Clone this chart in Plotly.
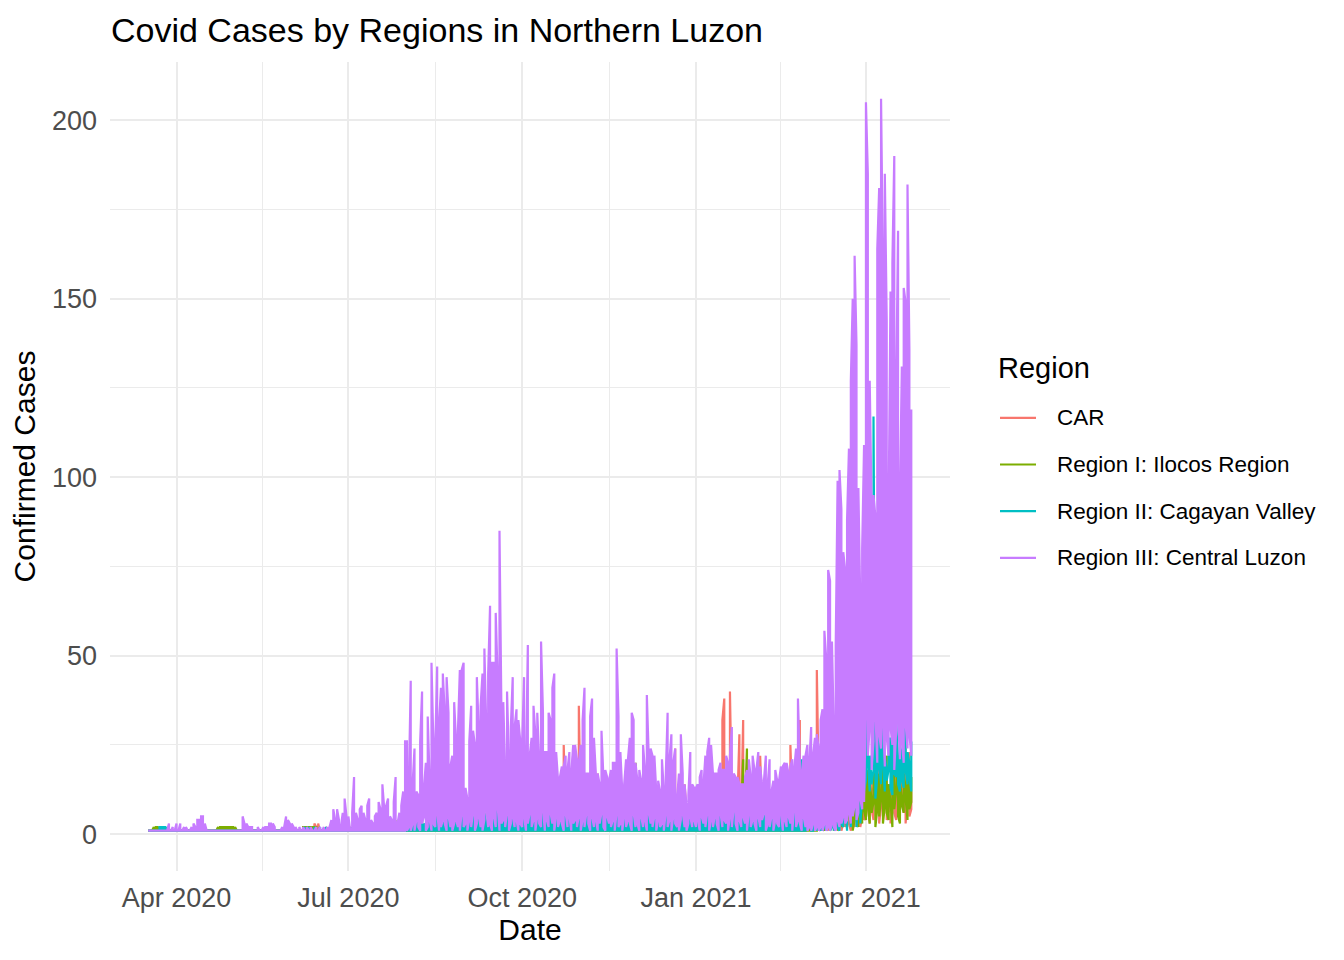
import pandas as pd
import plotly.graph_objects as go

# first day of each monthly chunk (data starts mid-March 2020)
month_starts = ["2020-03-17", "2020-04-01", "2020-05-01", "2020-06-01", "2020-07-01",
                "2020-08-01", "2020-09-01", "2020-10-01", "2020-11-01", "2020-12-01",
                "2021-01-01", "2021-02-01", "2021-03-01", "2021-04-01"]

# daily highest city count, one list per month
car_cases = [
    [1,1,1,1,1,1,1,1,1,1,1,1,1,1,1],
    [1,1,1,1,1,1,1,1,1,1,1,1,1,1,1,1,1,1,1,1,1,1,1,1,1,1,1,1,1,1],
    [1,1,1,1,1,1,1,1,1,1,1,1,1,1,1,1,1,1,1,1,1,1,1,1,1,1,1,1,1,1,1],
    [1,1,1,1,1,1,1,1,1,2,1,2,3,2,3,1,1,1,2,1,1,1,1,2,1,1,1,1,2,1],
    [1,2,1,1,2,1,1,2,1,1,3,1,2,1,1,2,1,2,3,2,1,2,3,1,2,1,1,2,3,2,1],
    [2,1,3,1,2,4,1,2,3,2,1,3,2,1,2,3,1,2,5,2,1,3,2,4,1,2,3,2,1,3,2],
    [3,2,1,4,2,3,1,2,5,3,2,1,4,2,3,2,6,3,1,2,4,3,2,5,3,2,4,3,2,27],
    [4,3,5,2,3,6,4,2,3,5,2,4,3,6,2,3,4,5,7,4,3,5,25,6,3,18,4,23,5,6,36],
    [5,4,6,3,7,4,5,3,6,17,4,5,3,6,4,7,5,3,6,4,5,8,4,6,3,5,7,4,6,5],
    [5,4,6,8,5,7,22,6,4,5,7,3,6,5,4,8,6,21,5,7,24,6,4,5,8,14,6,5,4,7,5],
    [6,5,8,4,7,6,9,5,8,6,17,7,9,6,32,38,8,7,40,9,6,8,10,28,7,32,9,6,8,10,7],
    [8,7,9,22,6,10,8,7,9,11,8,6,10,8,15,9,7,11,8,25,9,10,8,12,32,9,11,10],
    [12,10,14,9,11,46,13,10,15,12,11,14,16,12,18,13,15,19,14,17,21,15,18,16,20,17,19,22,18,21,17],
    [15,18,20,14,12,16,29,13,17,23,15,19,14,12,21,23,16,18,14,20,17,33,15,23,12],
]
ilocos_cases = [
    [1,1,1,2,2,2,2,1,1,1,1,1,1,1,1],
    [1,1,1,1,1,1,1,1,1,1,1,1,1,1,1,1,1,1,1,1,1,1,2,2,2,2,2,2,2,2],
    [2,2,1,1,1,1,1,1,1,1,1,1,1,1,1,1,1,1,1,1,1,1,1,1,1,1,1,1,1,1,1],
    [1,1,1,1,1,1,2,2,2,2,2,2,2,2,1,1,1,1,1,1,2,1,1,2,1,1,2,1,1,1],
    [1,2,1,1,3,1,2,1,1,2,1,3,1,2,1,1,4,2,1,3,1,2,1,3,2,1,4,2,1,2,3],
    [2,1,3,5,2,1,3,2,4,1,2,3,5,2,1,3,6,2,4,3,1,2,5,3,2,4,3,1,5,2,3],
    [3,2,4,1,3,5,2,4,12,3,6,2,4,8,3,12,5,2,8,4,3,6,2,5,3,4,2,8,3,5],
    [4,3,6,2,5,3,4,7,3,5,2,6,4,3,5,8,4,3,6,2,5,4,3,6,4,2,5,3,7,4,3],
    [4,3,5,2,6,4,3,5,4,7,3,5,2,6,4,3,5,4,6,3,5,7,4,3,6,4,5,8,4,20],
    [5,4,6,3,5,4,7,3,6,4,5,8,4,3,6,5,4,7,3,5,4,6,5,3,7,4,5,6,11,4,5],
    [4,6,5,3,7,5,4,6,5,8,4,13,6,18,5,7,4,6,8,5,7,6,9,5,7,21,8,24,6,9,7],
    [6,8,5,7,9,6,8,5,7,9,6,8,10,7,5,8,6,9,7,10,8,6,9,11,7,9,8,10],
    [8,10,7,9,11,8,10,12,9,7,11,13,10,8,12,9,14,11,8,12,15,10,13,9,16,12,10,14,17,11,13],
    [12,18,14,10,16,20,13,17,11,19,15,22,14,9,18,16,12,20,15,10,17,13,19,14,16],
]
cagayan_cases = [
    [1,1,1,1,1,1,2,2,2,2,2,1,1,1,1],
    [1,1,1,1,1,1,1,1,1,1,1,1,1,1,1,1,1,1,1,1,1,1,1,1,1,1,1,1,1,1],
    [1,1,1,1,1,1,1,2,1,1,1,1,1,1,1,1,1,1,1,2,1,1,1,1,1,1,1,1,2,1,1],
    [1,1,1,1,1,1,1,2,1,2,1,1,2,1,1,2,1,1,2,1,1,1,2,1,1,2,1,1,1,2],
    [1,1,2,1,1,2,1,1,2,1,3,1,2,1,1,2,1,3,1,2,1,2,1,1,3,1,2,1,2,1,2],
    [2,3,1,4,2,5,3,2,6,3,2,4,7,3,2,5,3,6,2,4,3,7,2,5,3,2,6,4,3,5,2],
    [4,6,3,7,5,3,8,12,4,11,6,3,8,5,7,4,9,6,3,7,5,4,8,6,3,9,5,4,7,5],
    [6,4,8,5,3,7,6,4,9,5,7,3,8,6,4,10,5,7,4,6,8,5,3,7,9,4,6,5,8,4,6],
    [5,7,4,8,6,3,9,5,7,4,6,10,5,3,8,6,4,7,5,9,6,4,8,5,7,3,6,8,5,7],
    [6,4,8,5,7,18,5,6,9,4,7,5,8,6,4,7,9,8,5,6,7,4,8,5,6,9,4,7,5,6,8],
    [5,14,7,4,8,6,9,5,7,4,8,6,10,5,7,9,4,8,6,5,12,7,4,8,6,9,16,5,7,6,8],
    [6,8,5,9,7,4,8,6,10,5,7,9,6,8,5,10,7,6,9,8,7,10,8,6,11,21,9,8],
    [8,10,7,9,6,11,8,10,13,9,7,12,10,8,11,9,15,10,12,9,14,11,21,10,13,12,27,15,11,14,18],
    [37,34,22,15,117,19,25,28,34,30,22,18,26,27,24,36,32,20,25,22,27,35,23,20,26],
]
central_luzon_cases = [
    [1,1,1,1,1,1,1,1,1,1,1,3,1,2,1],
    [3,1,3,1,2,2,1,1,2,3,2,4,4,5,5,3,1,1,1,1,1,1,1,1,1,1,1,1,1,1],
    [1,1,1,1,1,5,3,3,2,2,2,1,1,2,1,1,2,2,2,3,3,3,2,1,1,1,2,2,5,4,3],
    [3,2,2,1,2,1,2,1,2,1,2,1,1,2,1,2,1,2,1,2,2,4,7,4,7,4,2,6,10,5],
    [5,2,6,16,6,4,7,8,6,4,8,10,4,3,5,6,9,7,14,7,8,10,5,4,9,16,3,6,8,12,26],
    [26,14,43,14,24,12,11,26,40,13,20,33,15,48,25,25,47,31,41,45,34,44,34,19,22,37,26,29,46,46,48],
    [13,10,26,36,29,25,44,29,36,45,52,30,45,64,48,48,62,44,85,35,37,18,40,20,30,44,30,35,32,26],
    [26,44,19,53,22,27,36,28,34,21,54,34,23,23,34,32,41,45,23,15,16,19,19,22,18,23,17,25,25,21,20],
    [25,32,41,17,17,33,38,27,17,17,14,29,16,18,16,15,18,20,20,52,33,23,12,14,21,21,27,34,32,20],
    [15,18,15,25,18,39,22,24,22,22,12,15,12,21,12,16,34,21,28,20,24,10,17,28,17,14,8,11,23,14,13],
    [13,14,16,18,14,22,23,27,25,17,17,17,18,20,18,18,22,20,22,30,17,16,16,14,14,14,16,18,21,16,22],
    [18,18,23,19,14,15,22,14,21,12,15,18,15,15,19,19,20,20,17,19,21,18,24,38,20,17,22,22],
    [25,20,30,22,27,28,24,32,35,57,49,74,71,54,29,53,99,102,91,79,74,88,108,127,150,162,137,97,65,80,109],
    [205,185,127,91,95,89,164,181,206,159,185,144,90,152,160,190,125,169,95,131,153,149,182,136,119],
]

# daily lowest city count, one list per month (a single number = same every day)
central_luzon_low = [
    1, 1, 1, 1, 1,
    [1,2,1,3,1,4,2,1,3,5,1,2,4,1,3,2,6,1,2,4,3,1,5,2,1,3,4,2,1,6,2],
    [3,1,4,2,6,1,3,5,2,1,4,7,2,3,1,5,2,8,1,3,4,2,6,1,3,5,2,4,1,3],
    [2,5,1,3,6,2,4,1,5,3,2,7,1,4,2,6,3,1,5,2,4,3,1,6,2,5,1,3,4,2,5],
    [1,4,2,6,3,1,5,2,4,1,3,6,2,1,5,3,2,4,1,6,2,3,1,5,2,4,3,1,6,2],
    [3,1,5,2,4,1,6,3,2,5,1,4,2,3,1,6,2,4,1,5,3,2,1,4,6,2,1,3,5,2,4],
    [2,4,1,5,3,2,6,1,4,2,5,3,1,6,2,4,3,1,5,2,7,3,1,4,2,5,3,1,6,2,4],
    [3,1,5,2,4,6,1,3,2,5,1,4,3,2,6,1,4,2,5,3,1,7,2,4,3,1,5,2],
    [1,2,1,3,1,2,1,2,1,3,1,2,1,3,2,1,4,2,3,5,3,4,6,3,5,8,4,6,10,7,9],
    [37,22,30,18,26,34,20,28,24,32,19,27,22,30,25,18,29,33,21,26,20,31,24,28,22],
]
car_low = [
    1, 1, 1, 1, 1, 1, 1, 1, 1, 1, 1, 1,
    [1,2,1,3,1,2,1,4,2,1,3,1,2,5,1,3,2,4,1,3,2,5,3,1,4,2,6,3,2,5,4],
    [5,8,3,7,4,9,6,3,8,5,10,4,7,3,9,6,4,8,5,11,6,3,9,5,7],
]
ilocos_low = [
    1, 1, 1, 1, 1, 1, 1, 1, 1, 1, 1, 1,
    [1,1,1,1,1,1,2,1,3,1,2,4,1,3,2,5,1,3,2,4,6,2,5,3,1,4,6,2,5,3,7],
    [4,8,3,6,9,2,7,5,10,3,8,6,4,9,2,7,11,5,3,8,6,10,4,7,9],
]
cagayan_low = [
    1, 1, 1, 1, 1, 1, 1, 1, 1, 1, 1, 1,
    [1,2,1,1,3,1,2,1,1,2,1,3,1,2,1,4,2,1,3,2,9,1,10,2,8,11,2,12,3,10,12],
    [15,20,12,14,18,10,16,19,14,20,12,15,18,13,11,17,16,14,12,15,13,18,14,16,12],
]

regions = ["CAR", "Region I: Ilocos Region", "Region II: Cagayan Valley", "Region III: Central Luzon"]
colors = ["#F8766D", "#7CAE00", "#00BFC4", "#C77CFF"]


def zigzag(chunks, lows):
    # several rows per date -> vertical strokes between the day's low and high
    xs, ys = [], []
    n = 0
    for m, (start, vals) in enumerate(zip(month_starts, chunks)):
        d0 = pd.Timestamp(start)
        for i, v in enumerate(vals):
            d = d0 + pd.Timedelta(days=i)
            lo = lows[m][i] if isinstance(lows[m], list) else lows[m]
            lo = min(lo, v)
            xs += [d, d]
            ys += [lo, v] if n % 2 == 0 else [v, lo]
            n += 1
    return xs, ys


fig = go.Figure()
for name, col, chunks, lo in zip(regions, colors,
                                 [car_cases, ilocos_cases, cagayan_cases, central_luzon_cases],
                                 [car_low, ilocos_low, cagayan_low, central_luzon_low]):
    x, y = zigzag(chunks, lo)
    fig.add_trace(go.Scatter(x=x, y=y, mode="lines", name=name, showlegend=False,
                             line=dict(color=col, width=2.2)))

# page is offset 8px by the body margin, so the figure is 1328x944
W, H = 1328, 944
L, T, PW, PH = 102, 54, 840, 809.4


def px(xp):
    return (xp - 8 - L) / PW


def py(yp):
    return (T + PH - (yp - 8)) / PH


# hand-built legend so spacing matches ggplot's guide
ann = [dict(text="Region", x=px(996), y=py(368), xref="paper", yref="paper",
            xanchor="left", yanchor="middle", showarrow=False, font=dict(size=29, color="black"))]
shapes = []
for i, (name, col) in enumerate(zip(regions, colors)):
    yy = 418 + i * 46.7
    shapes.append(dict(type="line", xref="paper", yref="paper", x0=px(1000), x1=px(1036),
                       y0=py(yy), y1=py(yy), line=dict(color=col, width=2.2)))
    ann.append(dict(text=name, x=px(1055), y=py(yy), xref="paper", yref="paper",
                    xanchor="left", yanchor="middle", showarrow=False,
                    font=dict(size=22.5, color="black")))

grid = "#EBEBEB"
fig.update_layout(
    width=W, height=H, autosize=False,
    margin=dict(l=L, r=W - L - PW, t=T, b=H - T - PH),
    plot_bgcolor="white", paper_bgcolor="white", showlegend=False,
    font=dict(family="Liberation Sans, Arial, sans-serif", color="black"),
    title=dict(text="Covid Cases by Regions in Northern Luzon", x=(111 - 8) / W, xanchor="left",
               y=1 - (30 - 8) / H, yanchor="middle", font=dict(size=34, color="black")),
    annotations=ann, shapes=shapes,
    xaxis=dict(type="date", range=["2020-02-25 19:00", "2021-05-15 12:00"],
               tickvals=["2020-04-01", "2020-07-01", "2020-10-01", "2021-01-01", "2021-04-01"],
               ticktext=["Apr 2020", "Jul 2020", "Oct 2020", "Jan 2021", "Apr 2021"],
               showgrid=True, gridcolor=grid, gridwidth=1.8, zeroline=False, showline=False,
               ticks="", ticklabelstandoff=8, tickfont=dict(size=27, color="#4D4D4D"),
               minor=dict(tickvals=["2020-05-16 12:00", "2020-08-16", "2020-11-16", "2021-02-15"],
                          showgrid=True, gridcolor=grid, gridwidth=0.9),
               title=dict(text="Date", font=dict(size=30), standoff=6)),
    yaxis=dict(range=[-10.3, 216.3], tickvals=[0, 50, 100, 150, 200],
               showgrid=True, gridcolor=grid, gridwidth=1.8, zeroline=False, showline=False,
               ticks="", ticklabelstandoff=12, tickfont=dict(size=27, color="#4D4D4D"),
               minor=dict(tickvals=[25, 75, 125, 175], showgrid=True, gridcolor=grid, gridwidth=0.9),
               title=dict(text="Confirmed Cases", font=dict(size=30), standoff=8)),
)

fig.write_html("out.html")
